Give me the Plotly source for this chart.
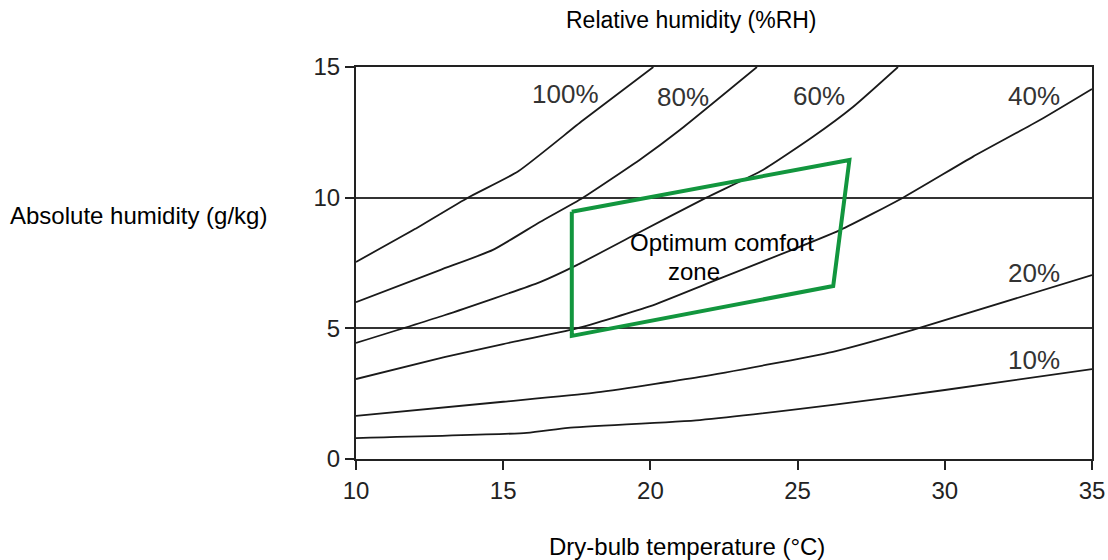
import plotly.graph_objects as go

# ---- data ----
rh_labels = ["100%", "80%", "60%", "40%", "20%", "10%"]

rh100_x = [10, 12, 13.8, 15.5, 17.7, 20.1]
rh100_y = [7.54, 8.8, 10.0, 11.0, 12.95, 15.0]

rh80_x = [10, 12.85, 14.65, 16.25, 17.71, 19.7, 21.0, 23.62]
rh80_y = [6.0, 7.23, 8.0, 9.07, 10.0, 11.5, 12.59, 15.0]

rh60_x = [10, 13, 16.25, 17.5, 19.5, 21.9, 23.82, 25.52, 26.88, 28.41]
rh60_y = [4.44, 5.5, 6.77, 7.42, 8.6, 10.0, 11.06, 12.33, 13.47, 15.0]

rh40_x = [10, 13, 15, 17.5, 20, 21.9, 26.44, 28.58, 30.96, 33.23, 35]
rh40_y = [3.06, 3.9, 4.4, 5.0, 5.85, 6.7, 8.76, 10.0, 11.57, 12.97, 14.16]

rh20_x = [10, 15, 18.05, 21.68, 26.2, 28.92, 35]
rh20_y = [1.65, 2.19, 2.53, 3.14, 4.1, 4.94, 7.04]

rh10_x = [10, 15.8, 17.2, 21.68, 26.2, 30, 35]
rh10_y = [0.8, 1.0, 1.19, 1.49, 2.07, 2.64, 3.44]

zone_x = [17.33, 26.76, 26.21, 17.33, 17.33]
zone_y = [9.46, 11.44, 6.62, 4.71, 9.46]

x_ticks = [10, 15, 20, 25, 30, 35]
y_ticks = [0, 5, 10, 15]

curves = [(rh100_x, rh100_y), (rh80_x, rh80_y), (rh60_x, rh60_y),
          (rh40_x, rh40_y), (rh20_x, rh20_y), (rh10_x, rh10_y)]

FONT = "Liberation Sans, Arial, Helvetica, sans-serif"

fig = go.Figure()
for (cx, cy), name in zip(curves, rh_labels):
    fig.add_trace(go.Scatter(x=cx, y=cy, mode="lines", name=name,
                             line=dict(color="#1a1a1a", width=1.8, shape="spline", smoothing=0.5),
                             hoverinfo="skip", showlegend=False))

fig.add_trace(go.Scatter(x=zone_x, y=zone_y, mode="lines", name="Optimum comfort zone",
                         line=dict(color="#12963e", width=4), showlegend=False, hoverinfo="skip"))

# curve labels
label_pos = [(17.13, 13.97), (21.11, 13.85), (25.73, 13.89), (33.03, 13.89), (33.03, 7.12), (33.03, 3.79)]
for (lx, ly), txt in zip(label_pos, rh_labels):
    fig.add_annotation(x=lx, y=ly, text=txt, showarrow=False, yanchor="middle",
                       font=dict(family=FONT, size=26, color="#333333"))

fig.add_annotation(x=22.43, y=8.27, text="Optimum comfort", showarrow=False, yanchor="middle",
                   font=dict(family=FONT, size=24, color="#000000"))
fig.add_annotation(x=21.48, y=7.19, text="zone", showarrow=False, yanchor="middle",
                   font=dict(family=FONT, size=24, color="#000000"))

# axis titles as annotations
fig.add_annotation(xref="paper", yref="paper", x=0.4565, y=1.12, yanchor="middle",
                   text="Relative humidity (%RH)",
                   showarrow=False, font=dict(family=FONT, size=23, color="#000000"))
fig.add_annotation(xref="paper", yref="paper", x=-0.4728, y=0.6224, xanchor="left", yanchor="middle",
                   text="Absolute humidity (g/kg)", showarrow=False,
                   font=dict(family=FONT, size=24, color="#000000"))
fig.add_annotation(xref="paper", yref="paper", x=0.4497, y=-0.222, yanchor="middle",
                   text="Dry-bulb temperature (°C)",
                   showarrow=False, font=dict(family=FONT, size=24, color="#000000"))

fig.update_layout(
    width=1108, height=560,
    margin=dict(l=356, r=16, t=67, b=101),
    paper_bgcolor="white", plot_bgcolor="white",
    xaxis=dict(range=[10, 35], tickvals=x_ticks, ticks="outside", ticklen=9, tickwidth=1.5,
               tickcolor="#222", showline=True, linecolor="#222", linewidth=2, mirror=True,
               showgrid=False, zeroline=False, automargin=False, ticklabeloverflow="allow",
               tickfont=dict(family=FONT, size=24, color="#222")),
    yaxis=dict(range=[0, 15], tickvals=y_ticks, ticks="outside", ticklen=9, tickwidth=1.5,
               tickcolor="#222", showline=True, linecolor="#222", linewidth=2, mirror=True,
               showgrid=True, gridcolor="#333", gridwidth=1.5, zeroline=False, automargin=False,
               tickfont=dict(family=FONT, size=24, color="#222")),
)

fig.write_html("out.html", config={"displayModeBar": False},
               post_script="document.body.style.margin='0';")
